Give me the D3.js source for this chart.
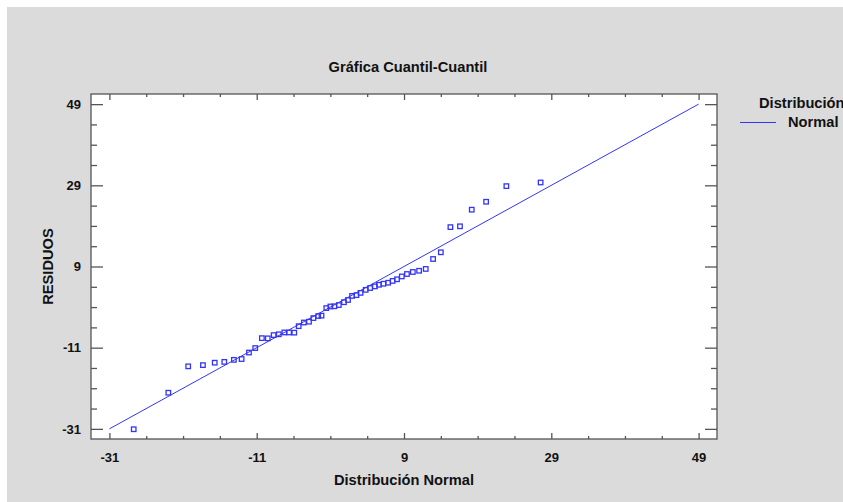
<!DOCTYPE html>
<html>
<head>
<meta charset="utf-8">
<script src="https://cdn.jsdelivr.net/npm/d3@7"></script>
<style>
  html, body { margin: 0; padding: 0; background: #ffffff; }
  svg { display: block; }
  text { font-family: "Liberation Sans", Arial, sans-serif; font-weight: bold; fill: #111; }
</style>
</head>
<body>
<svg id="chart" width="843" height="502"></svg>
<script>
// ---- data ----
const normalQuantiles = [-27.7, -23.0, -20.3, -18.3, -16.7, -15.4, -14.1, -13.05, -12.05, -11.2,
  -10.3, -9.5, -8.7, -8.0, -7.25, -6.6, -5.9, -5.3, -4.6, -3.9,
  -3.3, -2.65, -2.2, -1.55, -1.0, -0.45, 0.15, 0.85, 1.4, 1.95,
  2.55, 3.1, 3.8, 4.4, 5.05, 5.6, 6.2, 6.85, 7.45, 8.05,
  8.7, 9.4, 10.2, 11.05, 11.95, 12.95, 14.0, 15.3, 16.6, 18.2,
  20.15, 22.9, 27.55];
const residuals = [-31.1, -22.1, -15.6, -15.3, -14.7, -14.5, -14.0, -13.8, -12.2, -11.1,
  -8.65, -8.7, -7.9, -7.7, -7.25, -7.25, -7.3, -5.7, -4.8, -4.6,
  -3.7, -3.2, -3.1, -1.25, -0.85, -0.8, -0.5, 0.2, 0.75, 1.75,
  1.95, 2.5, 3.25, 3.7, 4.1, 4.5, 4.75, 5.0, 5.45, 5.85,
  6.55, 7.15, 7.65, 7.95, 8.4, 10.85, 12.5, 18.7, 18.9, 23.0,
  24.95, 28.8, 29.7];
const refLineX = [-31, 49];
const refLineY = [-31, 49];
const majorTicks = [-31, -11, 9, 29, 49];
const minorTicks = [-26, -21, -16, -6, -1, 4, 14, 19, 24, 34, 39, 44];
const titleText = "Gráfica Cuantil-Cuantil";
const xLabel = "Distribución Normal";
const yLabel = "RESIDUOS";
const legendTitle = "Distribución";
const legendItem = "Normal";

// ---- layout ----
const svg = d3.select("#chart");
const frame = { left: 91, right: 717, top: 94, bottom: 439 };
const blue = "#3434f8";
const axisCol = "#555";
const fmt = d => String(d); // plain hyphen-minus like the reference

svg.append("rect").attr("x", 7).attr("y", 7).attr("width", 836).attr("height", 495).attr("fill", "#dbdbdb");

const x = d3.scaleLinear().domain([-33.5, 51.5]).range([frame.left, frame.right]);
const y = d3.scaleLinear().domain([-33.5, 51.5]).range([frame.bottom, frame.top]);

svg.append("rect")
  .attr("x", frame.left).attr("y", frame.top)
  .attr("width", frame.right - frame.left).attr("height", frame.bottom - frame.top)
  .attr("fill", "#ffffff");

function styleAxis(g) {
  g.select(".domain").remove();
  g.selectAll("line").attr("stroke", axisCol).attr("stroke-width", 1.3);
}

// bottom axis
svg.append("g").attr("transform", `translate(0,${frame.bottom})`)
  .call(d3.axisBottom(x).tickValues(minorTicks).tickSize(-3).tickFormat(""))
  .call(styleAxis);
const bx = svg.append("g").attr("transform", `translate(0,${frame.bottom})`)
  .call(d3.axisBottom(x).tickValues(majorTicks).tickSize(-6).tickPadding(14).tickFormat(fmt))
  .call(styleAxis);
bx.selectAll("text").attr("font-size", 13).attr("fill", "#111")
  .attr("font-family", "Liberation Sans, Arial, sans-serif").attr("font-weight", "bold");

// top axis
svg.append("g").attr("transform", `translate(0,${frame.top})`)
  .call(d3.axisTop(x).tickValues(minorTicks).tickSize(-3).tickFormat(""))
  .call(styleAxis);
svg.append("g").attr("transform", `translate(0,${frame.top})`)
  .call(d3.axisTop(x).tickValues(majorTicks).tickSize(-6).tickFormat(""))
  .call(styleAxis);

// left axis
svg.append("g").attr("transform", `translate(${frame.left},0)`)
  .call(d3.axisLeft(y).tickValues(minorTicks).tickSize(-6).tickFormat(""))
  .call(styleAxis);
const ly = svg.append("g").attr("transform", `translate(${frame.left},0)`)
  .call(d3.axisLeft(y).tickValues(majorTicks).tickSize(-12).tickPadding(10).tickFormat(fmt))
  .call(styleAxis);
ly.selectAll("text").attr("font-size", 13).attr("fill", "#111")
  .attr("font-family", "Liberation Sans, Arial, sans-serif").attr("font-weight", "bold");

// right axis
svg.append("g").attr("transform", `translate(${frame.right},0)`)
  .call(d3.axisRight(y).tickValues(minorTicks).tickSize(-6).tickFormat(""))
  .call(styleAxis);
svg.append("g").attr("transform", `translate(${frame.right},0)`)
  .call(d3.axisRight(y).tickValues(majorTicks).tickSize(-12).tickFormat(""))
  .call(styleAxis);

// frame border
svg.append("rect")
  .attr("x", frame.left).attr("y", frame.top)
  .attr("width", frame.right - frame.left).attr("height", frame.bottom - frame.top)
  .attr("fill", "none").attr("stroke", axisCol).attr("stroke-width", 1.3);

// reference line
const lineData = refLineX.map((d, i) => [d, refLineY[i]]);
svg.append("path")
  .datum(lineData)
  .attr("d", d3.line().x(d => x(d[0])).y(d => y(d[1])))
  .attr("fill", "none").attr("stroke", blue).attr("stroke-width", 1);

// points
const pts = normalQuantiles.map((d, i) => [d, residuals[i]]);
const s = 4.5;
svg.append("g").selectAll("rect").data(pts).join("rect")
  .attr("x", d => x(d[0]) - s / 2).attr("y", d => y(d[1]) - s / 2)
  .attr("width", s).attr("height", s)
  .attr("fill", "none").attr("stroke", blue).attr("stroke-width", 1.3);

// title & labels
svg.append("text").attr("x", 408).attr("y", 72).attr("text-anchor", "middle")
  .attr("font-size", 14.67).text(titleText);
svg.append("text").attr("x", 404).attr("y", 484.5).attr("text-anchor", "middle")
  .attr("font-size", 14.67).text(xLabel);
svg.append("text").attr("transform", `translate(53,${(frame.top + frame.bottom) / 2}) rotate(-90)`)
  .attr("text-anchor", "middle").attr("font-size", 14.67).text(yLabel);

// legend
svg.append("text").attr("x", 759).attr("y", 108).attr("font-size", 14.67).text(legendTitle);
svg.append("line").attr("x1", 740).attr("x2", 776).attr("y1", 122.5).attr("y2", 122.5)
  .attr("stroke", blue).attr("stroke-width", 1.2);
svg.append("text").attr("x", 788).attr("y", 127).attr("font-size", 14.67).text(legendItem);
</script>
</body>
</html>
